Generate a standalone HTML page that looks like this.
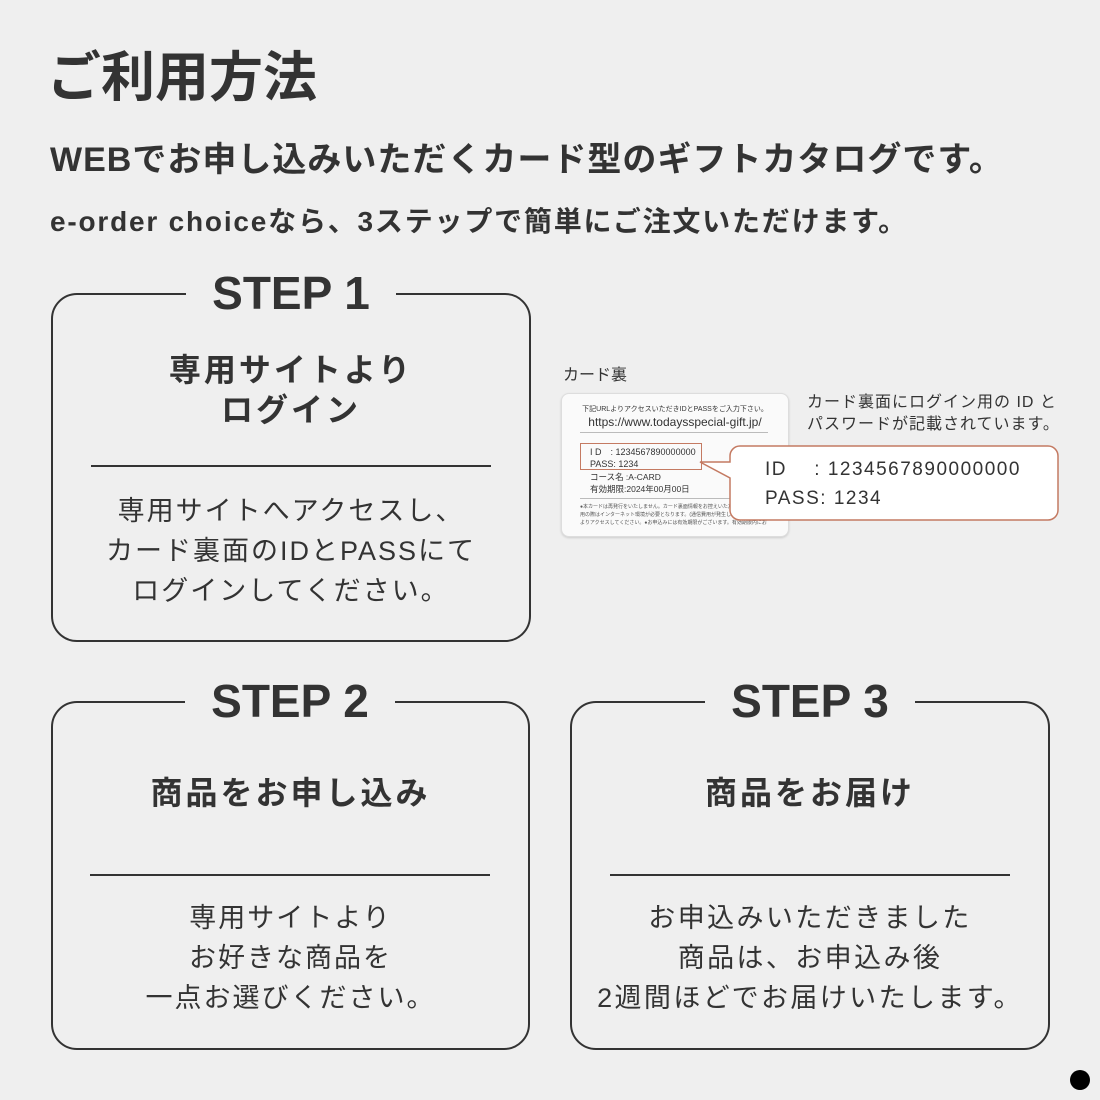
<!DOCTYPE html>
<html><head><meta charset="utf-8"><style>
*{margin:0;padding:0;box-sizing:border-box}
body{width:1100px;height:1100px;background:#efefef;position:relative;overflow:hidden;font-family:"Liberation Sans","Noto Sans CJK JP",sans-serif;color:#333}
.a{position:absolute;white-space:nowrap}
.box{position:absolute;border:2px solid #333;border-radius:26px}
.step{position:absolute;background:#efefef;font-weight:bold;font-size:46px;text-align:center;line-height:1;padding:0 14px}
.h{position:absolute;text-align:center;font-weight:bold;font-size:32px;line-height:40px;letter-spacing:3px}
.d{position:absolute;text-align:center;font-size:27px;line-height:40px;letter-spacing:2px}
.hr{position:absolute;height:2px;background:#333}
</style></head><body>
<div class="a" style="left:47px;top:46px;font-size:54px;font-weight:bold;line-height:64px">ご利用方法</div>
<div class="a" style="left:50px;top:138px;font-size:34px;font-weight:bold;line-height:44px;letter-spacing:1px">WEBでお申し込みいただくカード型のギフトカタログです。</div>
<div class="a" style="left:50px;top:203px;font-size:28px;font-weight:bold;line-height:38px;letter-spacing:1.8px">e-order choiceなら、3ステップで簡単にご注文いただけます。</div>

<div class="box" style="left:51px;top:293px;width:480px;height:349px"></div>
<div class="step" style="left:186px;top:270px;width:210px">STEP 1</div>
<div class="h" style="left:51px;top:350px;width:480px">専用サイトより<br>ログイン</div>
<div class="hr" style="left:91px;top:465px;width:400px"></div>
<div class="d" style="left:51px;top:491px;width:480px">専用サイトへアクセスし、<br>カード裏面のIDとPASSにて<br>ログインしてください。</div>

<div class="box" style="left:51px;top:701px;width:479px;height:349px"></div>
<div class="step" style="left:185px;top:678px;width:210px">STEP 2</div>
<div class="h" style="left:51px;top:773px;width:479px">商品をお申し込み</div>
<div class="hr" style="left:90px;top:874px;width:400px"></div>
<div class="d" style="left:51px;top:898px;width:479px">専用サイトより<br>お好きな商品を<br>一点お選びください。</div>

<div class="box" style="left:570px;top:701px;width:480px;height:349px"></div>
<div class="step" style="left:705px;top:678px;width:210px">STEP 3</div>
<div class="h" style="left:570px;top:773px;width:480px">商品をお届け</div>
<div class="hr" style="left:610px;top:874px;width:400px"></div>
<div class="d" style="left:570px;top:898px;width:480px;letter-spacing:2.4px">お申込みいただきました<br>商品は、お申込み後<br>2週間ほどでお届けいたします。</div>

<div class="a" style="left:563px;top:366px;font-size:16px;line-height:20px">カード裏</div>
<div style="position:absolute;left:561px;top:393px;width:228px;height:144px;background:#fafafa;border:1px solid #ddd;border-radius:8px;box-shadow:0 1px 2px rgba(0,0,0,.15)"></div>
<div class="a" style="left:561px;top:404px;width:228px;text-align:center;font-size:7px">下記URLよりアクセスいただきIDとPASSをご入力下さい。</div>
<div class="a" style="left:561px;top:415px;width:228px;text-align:center;font-size:12px">https://www.todaysspecial-gift.jp/</div>
<div class="hr" style="left:580px;top:432px;width:188px;height:1px;background:#bbb"></div>
<div style="position:absolute;left:580px;top:443px;width:122px;height:27px;border:1.5px solid #c47a62"></div>
<div class="a" style="left:590px;top:446px;font-size:9px;line-height:12px">I D　: 1234567890000000<br>PASS: 1234</div>
<div class="a" style="left:590px;top:471px;font-size:8.5px;line-height:12px">コース名 :A-CARD<br>有効期限:2024年00月00日</div>
<div class="hr" style="left:580px;top:498px;width:188px;height:1px;background:#bbb"></div>
<div class="a" style="left:580px;top:503px;font-size:5px;line-height:8px;color:#555">●本カードは再発行をいたしません。カード裏面情報をお控えいただくことをお<br>用の際はインターネット環境が必要となります。(通信費用が発生します) ●パ<br>よりアクセスしてください。●お申込みには有効期限がございます。有効期限内にお</div>
<svg style="position:absolute;left:680px;top:440px" width="385" height="90">
<path d="M60 6 H368 a10 10 0 0 1 10 10 V70 a10 10 0 0 1 -10 10 H60 a10 10 0 0 1 -10 -10 V38 L20 22 L50 22 V16 a10 10 0 0 1 10 -10 Z" fill="#fff" stroke="#c47a62" stroke-width="1.5"/>
</svg>
<div class="a" style="left:765px;top:455px;font-size:19px;line-height:29px;letter-spacing:1.5px">ID　 : 1234567890000000<br>PASS: 1234</div>
<div class="a" style="left:807px;top:392px;font-size:16px;line-height:22px;letter-spacing:1px">カード裏面にログイン用の ID と<br>パスワードが記載されています。</div>

<div style="position:absolute;left:1070px;top:1070px;width:20px;height:20px;border-radius:50%;background:#000"></div>
</body></html>
